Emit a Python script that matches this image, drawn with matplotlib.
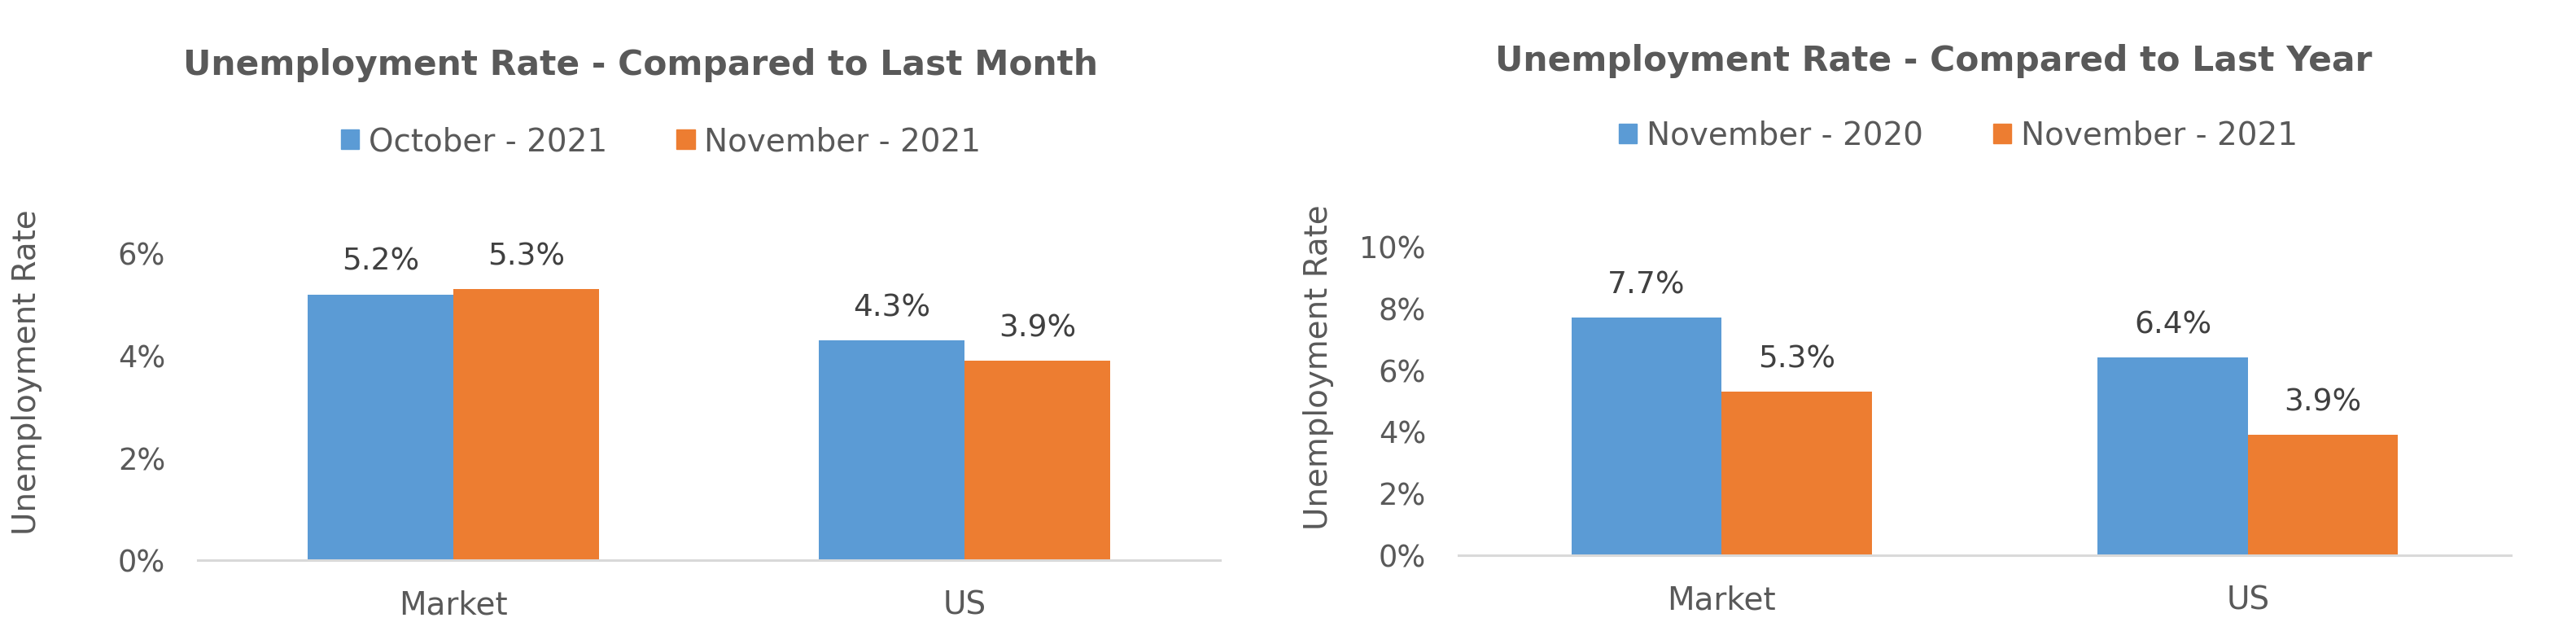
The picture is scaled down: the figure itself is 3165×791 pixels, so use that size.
import numpy as np
import matplotlib
matplotlib.use("Agg")
from matplotlib import pyplot as plt
from matplotlib.patches import Patch

# values (percent)
categories = ["Market", "US"]

month_series = ["October - 2021", "November - 2021"]
month_prev = [5.2, 4.3]
month_curr = [5.3, 3.9]

year_series = ["November - 2020", "November - 2021"]
year_prev = [7.7, 6.4]
year_curr = [5.3, 3.9]

BLUE = "#5B9BD5"
ORANGE = "#ED7D31"
GREY = "#595959"
DARK = "#404040"

W, H = 3165, 791
plt.rcParams["font.family"] = ["DejaVu Sans"]

fig = plt.figure(figsize=(W / 100, H / 100), dpi=100)


def px_axes(x0, x1, y_base, y_top):
    return fig.add_axes([x0 / W, (H - y_base) / H, (x1 - x0) / W, (y_base - y_top) / H])


def panel(ax, prev, curr, names, ymax, ticks, title, title_xy, leg_xy, ylab_xy):
    x = np.arange(len(categories))
    w = 0.285
    ax.bar(x - w / 2, prev, w, color=BLUE, label=names[0])
    ax.bar(x + w / 2, curr, w, color=ORANGE, label=names[1])
    for xs, vals in ((x - w / 2, prev), (x + w / 2, curr)):
        for xi, v in zip(xs, vals):
            ax.annotate(f"{v:.1f}%", (xi, v), xytext=(0, 21.6), textcoords="offset points",
                        ha="center", va="baseline", fontsize=27, color=DARK)
    ax.set_xlim(-0.5, len(categories) - 0.5)
    ax.set_ylim(0, ymax)
    ax.set_yticks(ticks)
    ax.set_yticklabels([f"{t:.0f}%" for t in ticks])
    ax.set_xticks(x)
    ax.set_xticklabels(categories)
    ax.tick_params(axis="y", length=0, pad=28.8, labelsize=26.5, labelcolor=GREY)
    ax.tick_params(axis="x", length=0, pad=26, labelsize=28, labelcolor=GREY)
    for s in ("top", "right", "left"):
        ax.spines[s].set_visible(False)
    ax.spines["bottom"].set_color("#D9D9D9")
    ax.spines["bottom"].set_linewidth(2.2)

    fig.text(title_xy[0] / W, 1 - title_xy[1] / H, title, ha="center", va="baseline",
             fontsize=30.5, fontweight="bold", color=GREY)
    handles = [Patch(color=BLUE), Patch(color=ORANGE)]
    fig.legend(handles, names, loc="center", bbox_to_anchor=(leg_xy[0] / W, 1 - leg_xy[1] / H),
               ncol=2, frameon=False, fontsize=28, labelcolor=GREY,
               handlelength=0.57, handleheight=0.57, handletextpad=0.3, columnspacing=2.2)
    fig.text(ylab_xy[0] / W, 1 - ylab_xy[1] / H, "Unemployment Rate", rotation=90,
             ha="center", va="center", fontsize=28, color=GREY)


ax1 = px_axes(243, 1499, 688, 688 - 7 * 62.75)
panel(ax1, month_prev, month_curr, month_series, 7, [0, 2, 4, 6],
      "Unemployment Rate - Compared to Last Month", (787, 92), (812, 174), (33, 457))

ax2 = px_axes(1792, 3085, 682, 682 - 11 * 37.9)
panel(ax2, year_prev, year_curr, year_series, 11, [0, 2, 4, 6, 8, 10],
      "Unemployment Rate - Compared to Last Year", (2376, 87), (2406, 167), (1620, 451))

fig.savefig("out.png", dpi=100)
